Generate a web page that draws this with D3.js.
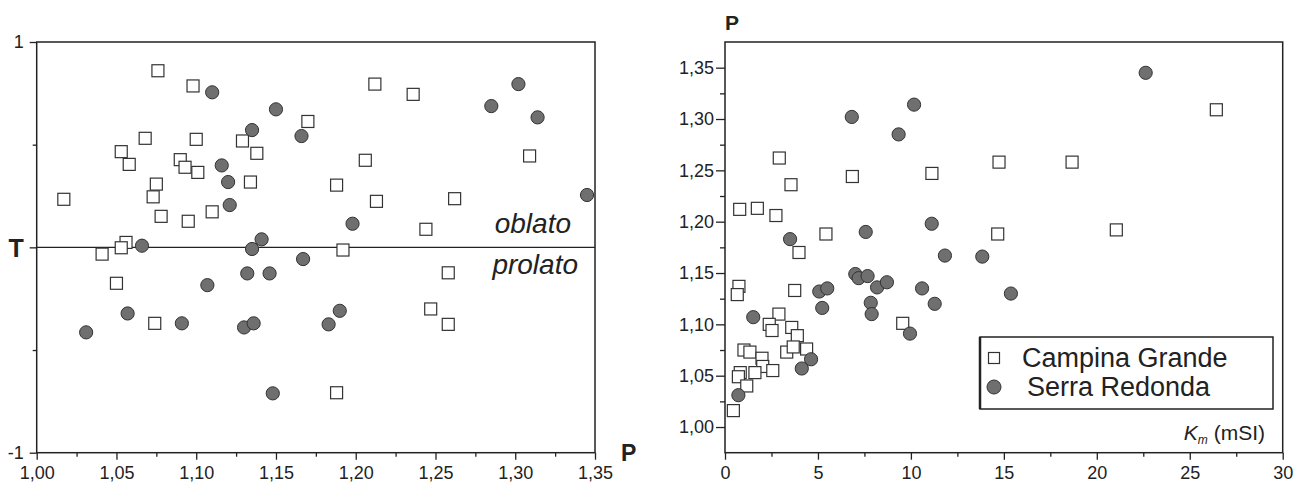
<!DOCTYPE html>
<html>
<head>
<meta charset="utf-8">
<script src="https://cdn.jsdelivr.net/npm/d3@7"></script>
<style>
  body { margin: 0; background: #fff; }
  svg text { font-family: "Liberation Sans", Arial, sans-serif; fill: #222; }
</style>
</head>
<body>
<svg id="chart" width="1297" height="483"></svg>
<script>
// Left panel: P vs T
const tpCampina = [[1.017,0.234],[1.076,0.860],[1.098,0.786],[1.068,0.531],[1.100,0.526],[1.053,0.466],[1.058,0.404],[1.090,0.427],[1.093,0.390],[1.101,0.365],[1.129,0.518],[1.138,0.458],[1.170,0.613],[1.075,0.308],[1.073,0.246],[1.134,0.318],[1.078,0.151],[1.095,0.127],[1.110,0.173],[1.056,0.024],[1.053,-0.002],[1.041,-0.033],[1.050,-0.175],[1.074,-0.370],[1.212,0.795],[1.236,0.745],[1.206,0.424],[1.188,0.303],[1.213,0.224],[1.262,0.237],[1.244,0.088],[1.309,0.445],[1.192,-0.013],[1.258,-0.124],[1.247,-0.300],[1.258,-0.375],[1.188,-0.708]];
const tpSerra = [[1.110,0.755],[1.150,0.672],[1.135,0.571],[1.166,0.542],[1.116,0.399],[1.120,0.318],[1.121,0.206],[1.141,0.039],[1.066,0.008],[1.135,-0.008],[1.167,-0.057],[1.132,-0.127],[1.146,-0.127],[1.107,-0.184],[1.057,-0.322],[1.091,-0.370],[1.130,-0.390],[1.136,-0.370],[1.031,-0.414],[1.148,-0.711],[1.183,-0.375],[1.190,-0.309],[1.302,0.795],[1.285,0.688],[1.314,0.633],[1.345,0.255],[1.198,0.115]];

// Right panel: Km vs P
const kpCampina = [[2.92,1.262],[3.55,1.236],[6.85,1.244],[11.13,1.247],[0.79,1.212],[1.74,1.213],[2.74,1.206],[5.43,1.188],[26.43,1.309],[14.74,1.258],[18.67,1.258],[14.67,1.188],[21.05,1.192],[3.98,1.170],[3.75,1.133],[0.75,1.137],[0.66,1.129],[2.90,1.110],[2.38,1.100],[2.53,1.094],[3.59,1.097],[3.89,1.089],[3.32,1.073],[3.67,1.078],[4.39,1.076],[1.02,1.075],[1.34,1.073],[1.99,1.067],[2.03,1.059],[2.57,1.055],[1.61,1.053],[0.82,1.053],[0.72,1.049],[1.17,1.040],[0.45,1.016],[9.56,1.101]];
const kpSerra = [[6.82,1.302],[10.17,1.314],[9.34,1.285],[11.12,1.198],[7.57,1.190],[3.50,1.183],[22.63,1.345],[1.52,1.107],[5.07,1.132],[5.50,1.135],[5.23,1.116],[7.01,1.149],[7.19,1.145],[7.67,1.147],[7.84,1.121],[7.89,1.110],[8.18,1.136],[8.71,1.141],[10.60,1.135],[11.28,1.120],[9.95,1.091],[11.83,1.167],[4.63,1.066],[4.13,1.057],[0.72,1.031],[13.84,1.166],[15.38,1.130]];

const tpXTicks = [1.00, 1.05, 1.10, 1.15, 1.20, 1.25, 1.30, 1.35];
const tpXMinor = [1.025, 1.075, 1.125, 1.175, 1.225, 1.275, 1.325];
const tpYTicks = [-1, 0, 1];
const tpYLabels = ["-1", "T", "1"];
const tpYMinor = [-0.5, 0.5];

const kpXTicks = [0, 5, 10, 15, 20, 25, 30];
const kpXMinor = [2.5, 7.5, 12.5, 17.5, 22.5, 27.5];
const kpYTicks = [1.00, 1.05, 1.10, 1.15, 1.20, 1.25, 1.30, 1.35];
const kpYMinor = [1.025, 1.075, 1.125, 1.175, 1.225, 1.275, 1.325];

const seriesNames = ["Campina Grande", "Serra Redonda"];

const comma = d => d3.format(".2f")(d).replace(".", ",");
const svg = d3.select("#chart");

const frameColor = "#222";
const circleFill = "#6f6f6f";

function frame(g, x0, x1, y0, y1) {
    g.append("rect")
        .attr("x", x0).attr("y", y0)
        .attr("width", x1 - x0).attr("height", y1 - y0)
        .attr("fill", "none").attr("stroke", frameColor).attr("stroke-width", 1.5);
}

function styleAxis(a, fontSize) {
    a.select(".domain").remove();
    a.selectAll("line").attr("stroke", frameColor).attr("stroke-width", 1.3);
    a.selectAll("text").style("font-size", fontSize + "px").attr("fill", "#222");
}

function drawPoints(g, x, y, squares, circles, half) {
    g.append("g").selectAll("rect")
        .data(squares).enter().append("rect")
        .attr("x", d => x(d[0]) - half)
        .attr("y", d => y(d[1]) - half)
        .attr("width", half * 2).attr("height", half * 2)
        .attr("fill", "#fff").attr("stroke", "#333").attr("stroke-width", 1.2);
    g.append("g").selectAll("circle")
        .data(circles).enter().append("circle")
        .attr("cx", d => x(d[0]))
        .attr("cy", d => y(d[1]))
        .attr("r", 6.6)
        .attr("fill", circleFill).attr("stroke", "#333").attr("stroke-width", 1);
}

// ---------- left panel ----------
{
    const x = d3.scaleLinear().domain([1.00, 1.35]).range([36.7, 595]);
    const y = d3.scaleLinear().domain([-1, 1]).range([452.7, 42]);
    const g = svg.append("g");

    const ax = g.append("g").attr("transform", `translate(0,${y(-1)})`)
        .call(d3.axisBottom(x).tickValues(tpXTicks).tickSize(7).tickPadding(7).tickFormat(comma));
    styleAxis(ax, 18);
    const axm = g.append("g").attr("transform", `translate(0,${y(-1)})`)
        .call(d3.axisBottom(x).tickValues(tpXMinor).tickSize(4).tickFormat(""));
    styleAxis(axm, 18);

    const ay = g.append("g").attr("transform", `translate(${x(1.00)},0)`)
        .call(d3.axisLeft(y).tickValues(tpYTicks).tickSize(7).tickPadding(6)
            .tickFormat((d, i) => tpYLabels[i]));
    styleAxis(ay, 18);
    ay.selectAll("text").filter(d => d === 0)
        .style("font-size", "25px").style("font-weight", "bold").attr("dy", "0.36em");
    const aym = g.append("g").attr("transform", `translate(${x(1.00)},0)`)
        .call(d3.axisLeft(y).tickValues(tpYMinor).tickSize(4).tickFormat(""));
    styleAxis(aym, 18);

    frame(g, x(1.00), x(1.35), y(1), y(-1));

    g.append("line")
        .attr("x1", x(1.00)).attr("x2", x(1.35))
        .attr("y1", y(0)).attr("y2", y(0))
        .attr("stroke", frameColor).attr("stroke-width", 1.3);

    g.append("text").attr("x", x(1.35) - 24).attr("y", y(0) - 14)
        .attr("text-anchor", "end").style("font-size", "28px").style("font-style", "italic")
        .attr("fill", "#444").text("oblato");
    g.append("text").attr("x", x(1.35) - 17).attr("y", y(0) + 27)
        .attr("text-anchor", "end").style("font-size", "28px").style("font-style", "italic")
        .attr("fill", "#444").text("prolato");

    g.append("text").attr("x", 621).attr("y", 461)
        .style("font-size", "23px").style("font-weight", "bold").attr("fill", "#444").text("P");

    drawPoints(g, x, y, tpCampina, tpSerra, 6);
}

// ---------- right panel ----------
{
    const x = d3.scaleLinear().domain([0, 30]).range([725, 1282.7]);
    const y = d3.scaleLinear().domain([0.975, 1.375]).range([452.7, 42]);
    const g = svg.append("g");

    const ax = g.append("g").attr("transform", `translate(0,${y(0.975)})`)
        .call(d3.axisBottom(x).tickValues(kpXTicks).tickSize(7).tickPadding(7).tickFormat(d3.format("d")));
    styleAxis(ax, 18);
    const axm = g.append("g").attr("transform", `translate(0,${y(0.975)})`)
        .call(d3.axisBottom(x).tickValues(kpXMinor).tickSize(4).tickFormat(""));
    styleAxis(axm, 18);

    const ay = g.append("g").attr("transform", `translate(${x(0)},0)`)
        .call(d3.axisLeft(y).tickValues(kpYTicks).tickSize(9).tickPadding(2).tickFormat(comma));
    styleAxis(ay, 18);
    const aym = g.append("g").attr("transform", `translate(${x(0)},0)`)
        .call(d3.axisLeft(y).tickValues(kpYMinor).tickSize(5).tickFormat(""));
    styleAxis(aym, 18);

    frame(g, x(0), x(30), y(1.375), y(0.975));

    g.append("text").attr("x", x(0)).attr("y", 30)
        .style("font-size", "21px").style("font-weight", "bold").attr("fill", "#444").text("P");

    const km = g.append("text").attr("x", 1265).attr("y", 440)
        .attr("text-anchor", "end").style("font-size", "21px");
    km.append("tspan").style("font-style", "italic").text("K");
    km.append("tspan").style("font-style", "italic").style("font-size", "12px").attr("dy", 4).text("m");
    km.append("tspan").attr("dy", -4).text(" (mSI)");

    drawPoints(g, x, y, kpCampina, kpSerra, 6);

    // legend
    const lg = g.append("g").attr("transform", "translate(980,337)");
    lg.append("rect").attr("width", 293).attr("height", 72)
        .attr("fill", "#fff").attr("stroke", frameColor).attr("stroke-width", 1.5);
    lg.append("line").attr("x1", 0).attr("x2", 0).attr("y1", 0).attr("y2", 72)
        .attr("stroke", frameColor).attr("stroke-width", 2.5);
    lg.append("rect").attr("x", 8.5).attr("y", 15.5).attr("width", 11).attr("height", 11)
        .attr("fill", "#fff").attr("stroke", "#333").attr("stroke-width", 1.2);
    lg.append("circle").attr("cx", 14).attr("cy", 50).attr("r", 7)
        .attr("fill", circleFill).attr("stroke", "#333").attr("stroke-width", 1);
    lg.append("text").attr("x", 42).attr("y", 30).style("font-size", "27px").text(seriesNames[0]);
    lg.append("text").attr("x", 47).attr("y", 59).style("font-size", "27px").text(seriesNames[1]);
}
</script>
</body>
</html>
